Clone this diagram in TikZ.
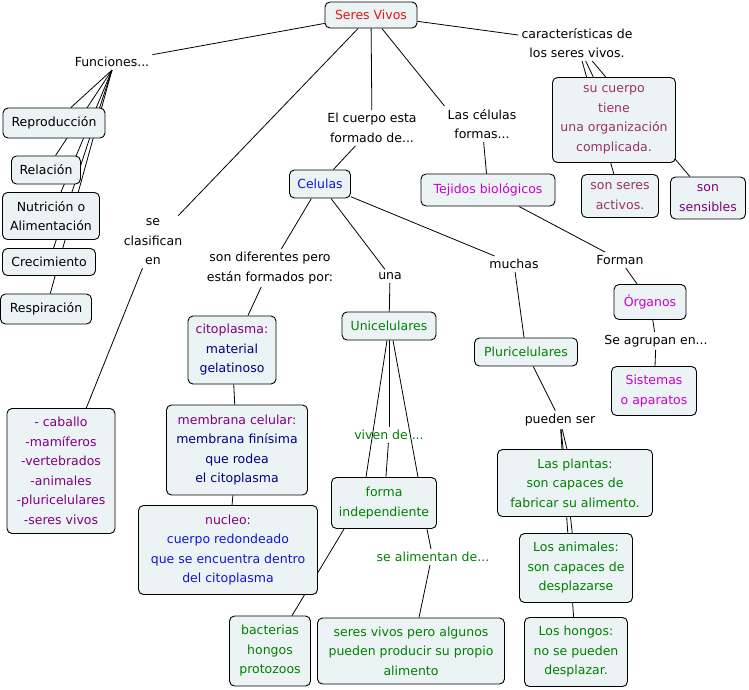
\documentclass[tikz,border=0pt]{standalone}
\usepackage{fontspec}
\setmainfont{DejaVu Sans}
\definecolor{boxfill}{RGB}{236,243,244}
\definecolor{tred}{RGB}{230,20,20}
\definecolor{tblue}{RGB}{20,20,215}
\definecolor{tnavy}{RGB}{0,0,128}
\definecolor{tpurp}{RGB}{128,0,128}
\definecolor{tmaroon}{RGB}{153,51,102}
\definecolor{tmag}{RGB}{204,0,204}
\definecolor{tgreen}{RGB}{0,128,0}
\pgfdeclarelayer{bg}
\pgfsetlayers{bg,main}
\begin{document}
\begin{tikzpicture}[x=1pt,y=-1pt,
  font=\fontsize{12.5pt}{19.5pt}\selectfont,
  box/.style={draw=black, line width=0.9pt, rounded corners=5pt, fill=boxfill, align=center, inner sep=2pt},
  wh/.style 2 args={minimum width=#1pt, minimum height=#2pt},
  lab/.style={align=center, inner sep=3pt},
  conn/.style={draw=black, line width=0.8pt}]
\useasboundingbox (0,0) rectangle (749,689);
\node[box,wh={92}{26},text=tred] (sv) at (371,15) {Seres Vivos};
\node[lab] (fun) at (112,62) {Funciones...};
\node[lab] (car) at (577,43) {características de\\los seres vivos.};
\node[box,wh={102}{30}] (rep) at (54,123) {Reproducción};
\node[box,wh={69}{28}] (rel) at (46,170) {Relación};
\node[box,wh={97}{47}] (nut) at (51,216) {Nutrición o\\Alimentación};
\node[box,wh={93}{27}] (cre) at (49,262) {Crecimiento};
\node[box,wh={91}{30}] (res) at (46,309) {Respiración};
\node[lab] (cla) at (153,242) {se\\clasifican\\en};
\node[lab] (cue) at (372,128) {El cuerpo esta\\formado de...};
\node[lab] (lcf) at (482,124) {Las células\\formas...};
\node[box,wh={123}{85},text=tmaroon] (suc) at (614,120) {su cuerpo\\tiene\\una organización\\complicada.};
\node[box,wh={77}{43},text=tmaroon] (act) at (620,196) {son seres\\activos.};
\node[box,wh={75}{42},text=tpurp] (sen) at (708,198) {son\\sensibles};
\node[box,wh={61}{28},text=tblue] (cel) at (320,184) {Celulas};
\node[box,wh={134}{32},text=tmag] (tej) at (488,190) {Tejidos biológicos};
\node[lab] (dif) at (270,268) {son diferentes pero\\están formados por:};
\node[lab] (una) at (390,276) {una};
\node[lab] (muc) at (514,264) {muchas};
\node[lab] (for) at (620,260) {Forman};
\node[box,wh={72}{35},text=tmag] (org) at (650,302) {Órganos};
\node[lab] (agr) at (656,341) {Se agrupan en...};
\node[box,wh={85}{49},text=tmag] (sis) at (654,391) {Sistemas\\o aparatos};
\node[box,wh={88}{68},text=tnavy] (cit) at (232,350) {\textcolor{tpurp}{citoplasma:}\\material\\gelatinoso};
\node[box,wh={94}{28},text=tgreen] (uni) at (389,326) {Unicelulares};
\node[box,wh={103}{28},text=tgreen] (plu) at (526,352) {Pluricelulares};
\node[lab] (pue) at (560,420) {pueden ser};
\node[box,wh={141}{90},text=tnavy] (mem) at (237,450) {\textcolor{tpurp}{membrana celular:}\\membrana finísima\\que rodea\\el citoplasma};
\node[box,wh={108}{125},text=tpurp] (cab) at (61,471) {- caballo\\-mamíferos\\-vertebrados\\-animales\\-pluricelulares\\-seres vivos};
\node[lab,text=tgreen] (viv) at (389,435) {viven de ...};
\node[box,wh={105}{51},text=tgreen] (fin) at (384,503) {forma\\independiente};
\node[box,wh={179}{89},text=tblue] (nuc) at (228,550) {\textcolor{tpurp}{nucleo:}\\cuerpo redondeado\\que se encuentra dentro\\del citoplasma};
\node[lab,text=tgreen] (ali) at (433,557) {se alimentan de...};
\node[box,wh={155}{67},text=tgreen] (pla) at (575,483) {Las plantas:\\son capaces de\\fabricar su alimento.};
\node[box,wh={113}{69},text=tgreen] (ani) at (576,568) {Los animales:\\son capaces de\\desplazarse};
\node[box,wh={103}{69},text=tgreen] (hon) at (576,652) {Los hongos:\\no se pueden\\desplazar.};
\node[box,wh={81}{70},text=tgreen] (bac) at (270,651) {bacterias\\hongos\\protozoos};
\node[box,wh={187}{66},text=tgreen] (svp) at (411,651) {seres vivos pero algunos\\pueden producir su propio\\alimento};
\begin{pgfonlayer}{bg}
\fill[white] (0,0) rectangle (749,689);
\draw[conn] (sv) -- (fun);
\draw[conn] (sv) -- (car);
\draw[conn] (sv) -- (cla);
\draw[conn] (sv) -- (cue);
\draw[conn] (sv) -- (lcf.north west);
\foreach \t in {rep,rel,nut,cre,res} \draw[conn] (fun.south) -- (\t);
\draw[conn] (car) -- (suc);
\draw[conn] (car) -- (act);
\draw[conn] (car) -- (sen);
\draw[conn] (cue) -- (cel);
\draw[conn] (lcf) -- (tej);
\draw[conn] (cel) -- (dif);
\draw[conn] (cel) -- (una);
\draw[conn] (cel) -- (muc);
\draw[conn] (tej) -- (for);
\draw[conn] (for) -- (org);
\draw[conn] (org) -- (agr);
\draw[conn] (agr) -- (sis);
\draw[conn] (dif) -- (cit);
\draw[conn] (cit) -- (mem);
\draw[conn] (mem) -- (nuc);
\draw[conn] (cla) -- (cab);
\draw[conn] (una) -- (uni);
\draw[conn] (muc) -- (plu);
\draw[conn] (plu) -- (pue);
\draw[conn] (pue) -- (pla);
\draw[conn] (pue) -- (ani);
\draw[conn] (pue) -- (hon);
\draw[conn] (uni) -- (viv);
\draw[conn] (viv) -- (fin);
\draw[conn] ([xshift=-2pt]uni.south) -- ([xshift=-18pt]fin.north);
\draw[conn] ([xshift=4pt]uni.south) -- ([xshift=34pt]fin.north);
\draw[conn] ([xshift=13pt]fin.south west) -- ([xshift=63pt]bac.north west);
\draw[conn] ([xshift=-10pt]fin.south east) -- ([xshift=-2pt]ali.north);
\draw[conn] ([xshift=-3pt]ali.south) -- ([xshift=8pt]svp.north);
\end{pgfonlayer}
\end{tikzpicture}
\end{document}
